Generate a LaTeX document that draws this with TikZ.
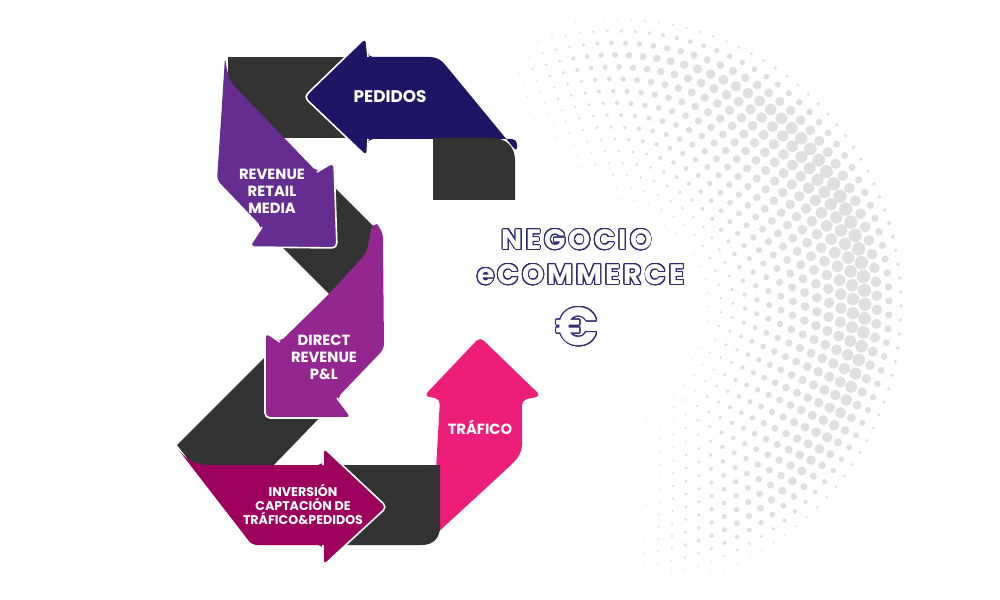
\documentclass[tikz,border=0pt]{standalone}
\usepackage{fontspec}
\usepackage{contour}
\newfontfamily\lblfont{Poppins}
\newfontfamily\bigfont{Poppins}[LetterSpace=11]
\contourlength{1.3pt}
\contournumber{32}
\definecolor{ribbondark}{HTML}{333333}
\definecolor{pedidosc}{HTML}{1F1565}
\definecolor{retailc}{HTML}{662D91}
\definecolor{directc}{HTML}{93278F}
\definecolor{inversionc}{HTML}{9E005D}
\definecolor{traficoc}{HTML}{ED1E79}
\definecolor{titlenavy}{HTML}{2E2A72}
\definecolor{dotgray}{HTML}{E0E0E0}
\tikzset{
  fold/.style={fill=ribbondark},
  band/.style={rounded corners=2.5mm},
  headline/.style={draw=white,line width=0.8mm,rounded corners=2.5mm},
  tag/.style={text=white,align=center,font=\lblfont\bfseries\fontsize{21}{24}\selectfont},
  smalltag/.style={tag,font=\lblfont\bfseries\fontsize{18}{20}\selectfont},
  title/.style={text=white,font=\bigfont\bfseries\fontsize{40}{44}\selectfont},
}
\begin{document}
\begin{tikzpicture}[x=0.5mm,y=-0.5mm]
\useasboundingbox (0,0) rectangle (1000,600);

% halftone dots
\foreach \i in {0,...,17}{
  \pgfmathsetmacro\rr{82+12*\i}
  \pgfmathsetmacro\st{14/\rr*57.2958}
  \pgfmathsetmacro\off{mod(\i,2)*\st/2}
  \pgfmathtruncatemacro\nn{250/\st}
  \pgfmathsetmacro\rf{min(max(\rr-70,0)/170,(300-\rr)/45)}
  \foreach \k in {0,...,\nn}{
    \pgfmathsetmacro\th{-125+\off+\k*\st}
    \pgfmathsetmacro\dr{3.2*\rf*max(0,cos(0.85*(\th-15)))}
    \ifdim\dr pt>0.2pt
      \fill[dotgray] ({615+\rr*cos(\th)},{305-\rr*sin(\th)}) circle [radius=\dr mm];
    \fi
  }
}

% dark back of the ribbon
\fill[fold] (228,57) rectangle (410,138);
\fill[fold] (270,235) -- (345,310) -- (378,231) -- (327,180) -- cycle;
\fill[fold] (275,347) -- (177,445) -- (200,475) -- (269,470) -- (330,407) -- cycle;

% pedidos
\fill[pedidosc,band] (368,139) -- (367,157) -- (304,97) -- (366,37) -- (368,57) -- (425,57)
  .. controls (436,57) and (441,60) .. (447,67) -- (517,152) -- (517,139) -- cycle;
\draw[headline] (368,57) -- (366,37) -- (304,97) -- (367,157) -- (368,139);
\fill[fold] (433,200) -- (433,138) -- (493,138) .. controls (505,138) and (515,146) .. (515,160) -- (515,200) -- cycle;

% revenue retail media
\fill[retailc,band] (221,120) -- (217,180) -- (262,227) -- (249,247) -- (337,248) -- (334,162) -- (317,172)
  -- (238,90) .. controls (230,82) and (227,72) .. (225,57) -- cycle;
\draw[headline] (317,172) -- (334,162) -- (337,248) -- (249,247) -- (262,227);

% direct revenue
\fill[directc,band] (328,295) -- (362,258) .. controls (368,250) and (370,235) .. (372,224)
  .. controls (377,224) and (383,232) .. (383,242) -- (384,349) -- (337,398) -- (352,418)
  -- (265,418) -- (265,332) -- (280,342) -- cycle;
\draw[headline] (280,342) -- (265,332) -- (265,418) -- (352,418) -- (337,398);

% trafico
\fill[traficoc,band] (440,399) -- (424,396) -- (480,337) -- (541,396) -- (522,400) -- (522,440)
  .. controls (522,452) and (518,458) .. (510,466) -- (423,546) -- (436,470) -- cycle;
\fill[fold] (330,465) -- (440,465) -- (440,527) .. controls (440,538) and (433,545) .. (422,545) -- (330,545) -- cycle;

% inversion
\fill[inversionc,band] (177,448) .. controls (186,459) and (196,465) .. (212,465) -- (323,465) -- (323,447)
  -- (387,507) -- (323,566) -- (323,545) -- (252,545) -- cycle;
\draw[headline] (323,465) -- (323,447) -- (387,507) -- (323,566) -- (323,545);

% labels
\node[tag,font=\lblfont\bfseries\fontsize{24}{26}\selectfont] (pedidos) at (390,97) {PEDIDOS};
\node[tag] (retail) at (272,191) {REVENUE\\RETAIL\\MEDIA};
\node[tag] (direct) at (324,357) {DIRECT\\REVENUE\\P\&L};
\node[smalltag] (inversion) at (303,504) {INVERSIÓN\\CAPTACIÓN DE\\TRÁFICO\&PEDIDOS};
\node[tag] (trafico) at (480,427) {TRÁFICO};

\node[title] (negocio) at (577,240) {\contour{titlenavy}{NEGOCIO}};
\node[title] (ecommerce) at (581,275) {\contour{titlenavy}{eCOMMERCE}};
\node[title,font=\lblfont\bfseries\fontsize{76}{80}\selectfont] (euro) at (577,327) {\contour{titlenavy}{€}};
\end{tikzpicture}
\end{document}
